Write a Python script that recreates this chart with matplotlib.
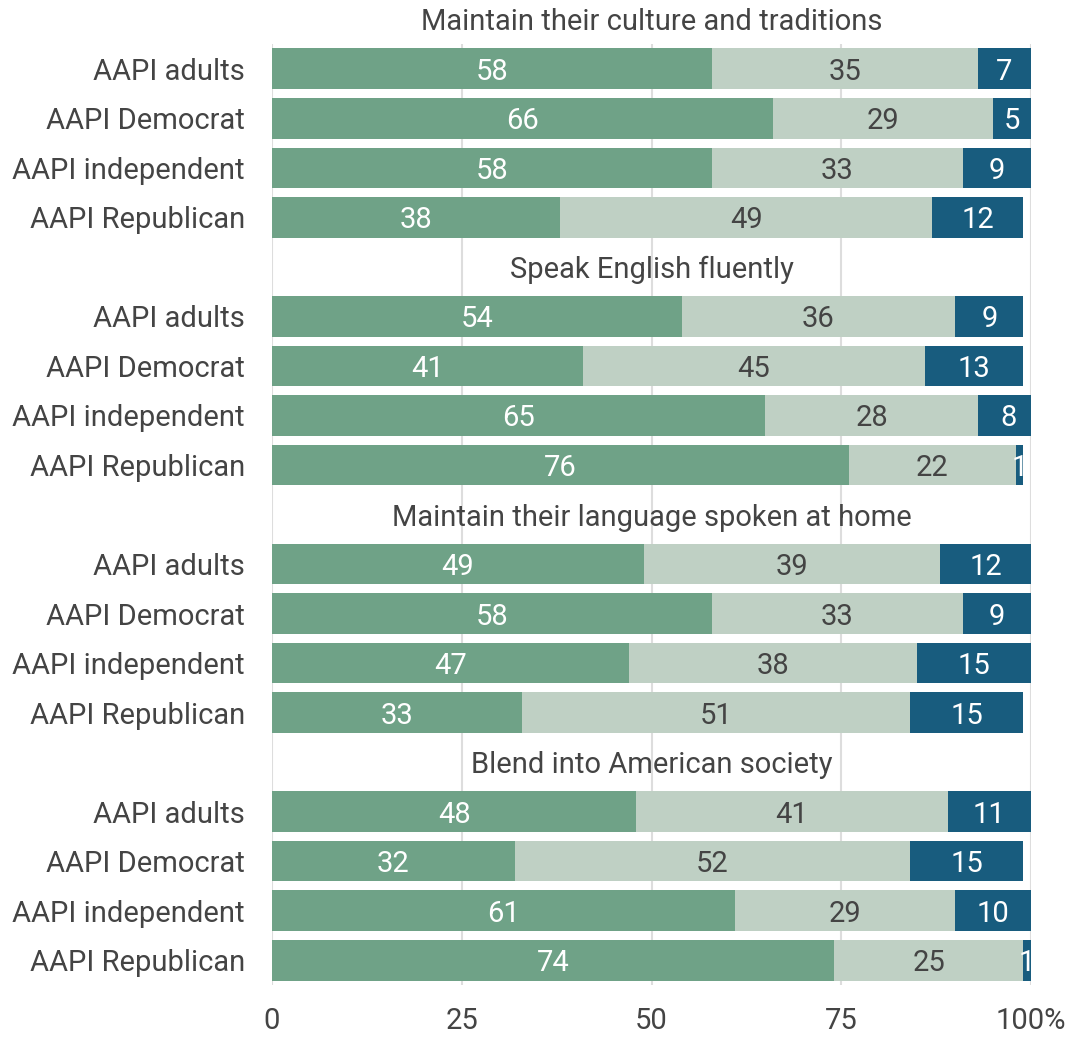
import matplotlib
matplotlib.use("Agg")
import matplotlib.pyplot as plt
import numpy as np

plt.rcParams['font.family'] = ['Roboto', 'DejaVu Sans']

groups = ["Maintain their culture and traditions",
          "Speak English fluently",
          "Maintain their language spoken at home",
          "Blend into American society"]
rows = ["AAPI adults", "AAPI Democrat", "AAPI independent", "AAPI Republican"]

s1 = [[58, 66, 58, 38], [54, 41, 65, 76], [49, 58, 47, 33], [48, 32, 61, 74]]
s2 = [[35, 29, 33, 49], [36, 45, 28, 22], [39, 33, 38, 51], [41, 52, 29, 25]]
s3 = [[7, 5, 9, 12], [9, 13, 8, 1], [12, 9, 15, 15], [11, 15, 10, 1]]

xticks = [0, 25, 50, 75, 100]
xticklabels = ["0", "25", "50", "75", "100%"]

c1, c2, c3 = "#6FA287", "#BFD0C4", "#185C7E"
txt = "#444444"

fig = plt.figure(figsize=(10.88, 10.39), dpi=100)
ax = fig.add_axes([272/1088, 1 - 985/1039, (1031-272)/1088, (985-44)/1039])

fs = 21
ypos, ylabels = [], []
for g in range(4):
    base = g * 5
    ax.text(50, base, groups[g], ha="center", va="center_baseline", fontsize=fs,
            color=txt, clip_on=False)
    for r in range(4):
        y = base + 1 + r
        ypos.append(y)
        ylabels.append(rows[r])
        a, b, c = s1[g][r], s2[g][r], s3[g][r]
        ax.barh(y, a, left=0, height=0.82, color=c1, zorder=2)
        ax.barh(y, b, left=a, height=0.82, color=c2, zorder=2)
        ax.barh(y, c, left=a + b, height=0.82, color=c3, zorder=2)
        ax.text(a / 2, y, str(a), ha="center", va="center_baseline", color="white", fontsize=fs, zorder=3)
        ax.text(a + b / 2, y, str(b), ha="center", va="center_baseline", color=txt, fontsize=fs, zorder=3)
        ax.text(a + b + c / 2, y, str(c), ha="center", va="center_baseline", color="white", fontsize=fs, zorder=3)

ax.set_xlim(0, 100)
ax.set_ylim(19.5, 0.5)
ax.set_yticks(ypos)
ax.set_yticklabels(ylabels, fontsize=fs, color=txt)
ax.set_xticks(xticks)
ax.set_xticklabels(xticklabels, fontsize=fs, color=txt)
ax.tick_params(axis="y", length=0, pad=19.5)
ax.tick_params(axis="x", length=0, pad=16)
for s in ax.spines.values():
    s.set_visible(False)
ax.grid(axis="x", color="#DDDDDD", linewidth=1.5, zorder=0)
ax.set_axisbelow(True)

fig.savefig("out.png", dpi=100)
